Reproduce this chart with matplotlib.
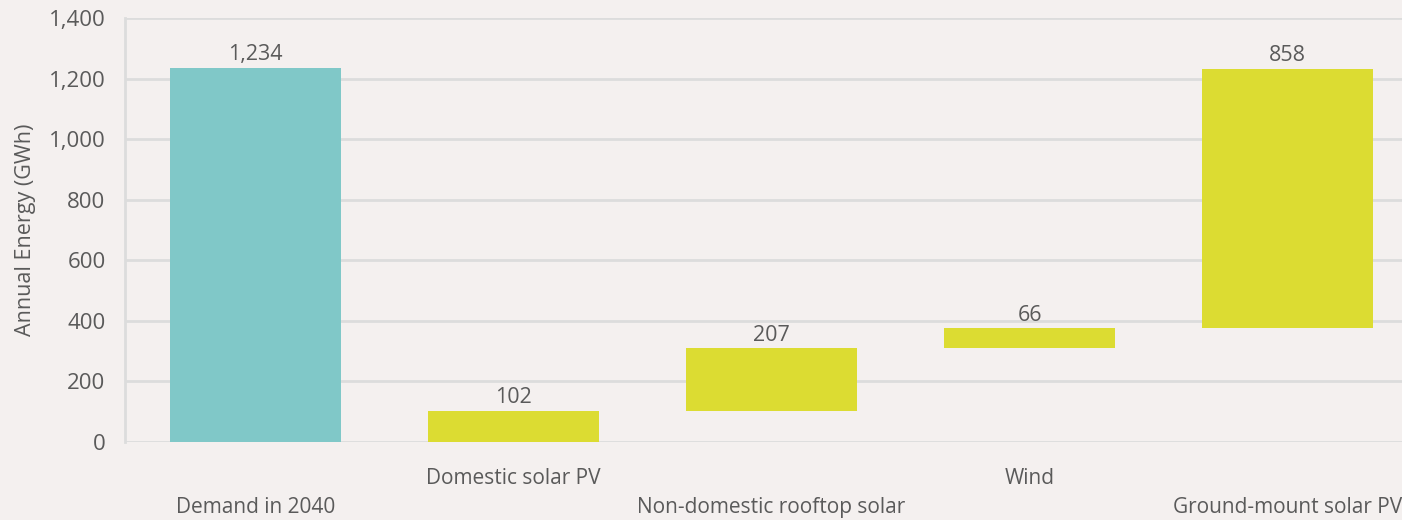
import numpy as np
import matplotlib.pyplot as plt
from matplotlib.transforms import blended_transform_factory

categories = ["Demand in 2040", "Domestic solar PV", "Non-domestic rooftop solar",
              "Wind", "Ground-mount solar PV"]
values = [1234, 102, 207, 66, 858]
# first bar is the total, the rest stack up from zero
is_total = [True, False, False, False, False]

BG = "#f4f0ef"
TEAL = "#80c8c8"
LIME = "#dcdc32"
TEXT = "#5a5a5a"
GRID = "#dcdcdc"

plt.rcParams["font.family"] = ["Open Sans", "DejaVu Sans"]

fig = plt.figure(figsize=(14.02, 5.2), dpi=100, facecolor=BG)
ax = fig.add_axes([125 / 1402, 78 / 520, 1290 / 1402, 424 / 520], facecolor=BG)

bottoms = []
running = 0
for v, tot in zip(values, is_total):
    if tot:
        bottoms.append(0)
    else:
        bottoms.append(running)
        running += v

x = np.arange(len(categories))
colors = [TEAL if t else LIME for t in is_total]
ax.bar(x, values, bottom=bottoms, width=0.66, color=colors, zorder=3)

for xi, v, b in zip(x, values, bottoms):
    ax.annotate(f"{v:,}", (xi, b + v), xytext=(0, 2), textcoords="offset points",
                ha="center", va="bottom", fontsize=15.5, color=TEXT, zorder=4)

ax.set_xlim(-0.506, 4.494)
ax.set_ylim(0, 1400)
ax.set_yticks(np.arange(0, 1401, 200))
ax.set_yticklabels([f"{t:,}" for t in range(0, 1401, 200)])
ax.yaxis.grid(True, color=GRID, linewidth=2, zorder=0)
ax.set_axisbelow(True)

for s in ["top", "right", "bottom"]:
    ax.spines[s].set_visible(False)
ax.spines["left"].set_color(GRID)
ax.spines["left"].set_linewidth(2)
ax.tick_params(axis="y", length=0, pad=14, labelsize=16, labelcolor=TEXT)
ax.tick_params(axis="x", length=0)
ax.set_xticks([])

# staggered category labels
trans = blended_transform_factory(ax.transData, ax.transAxes)
for i, name in enumerate(categories):
    ypos = -0.086 if i % 2 == 1 else -0.155
    ax.text(i, ypos, name, transform=trans, ha="center", va="center",
            fontsize=15, color=TEXT)

ax.set_ylabel("Annual Energy (GWh)", fontsize=15.5, color=TEXT, labelpad=9)

fig.savefig("out.png", dpi=100, facecolor=BG)
